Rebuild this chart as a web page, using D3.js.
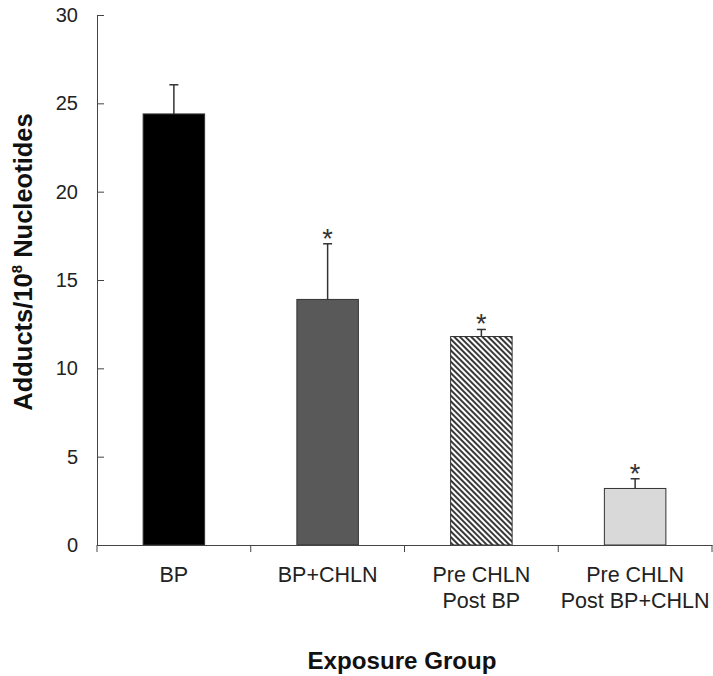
<!DOCTYPE html>
<html>
<head>
<meta charset="utf-8">
<script src="https://cdn.jsdelivr.net/npm/d3@7/dist/d3.min.js"></script>
<style>
  html, body { margin: 0; padding: 0; background: #fff; }
  svg { display: block; font-family: Arial, "Liberation Sans", sans-serif; }
</style>
</head>
<body>
<svg id="chart" width="713" height="676"></svg>
<script>
const categories = ["BP", "BP+CHLN", "Pre CHLN|Post BP", "Pre CHLN|Post BP+CHLN"];
const means = [24.4, 13.9, 11.8, 3.2];
const errors = [1.65, 3.15, 0.4, 0.55];
const significant = [false, true, true, true];
const yTicks = [0, 5, 10, 15, 20, 25, 30];

const svg = d3.select("#chart");
const margin = { left: 97, right: 1, top: 15, bottom: 131 };
const W = 713, H = 676;

const x = d3.scaleBand().domain(categories).range([margin.left, W - margin.right]).paddingInner(0.6).paddingOuter(0.3);
const xTickScale = d3.scaleBand().domain(categories).range([margin.left, W - margin.right]);
const y = d3.scaleLinear().domain([0, 30]).range([H - margin.bottom, margin.top]);

const defs = svg.append("defs");
const pat = defs.append("pattern").attr("id", "hatch").attr("patternUnits", "userSpaceOnUse")
  .attr("width", 4).attr("height", 4).attr("patternTransform", "rotate(45)");
pat.append("rect").attr("width", 4).attr("height", 4).attr("fill", "#fff");
pat.append("line").attr("x1", 0).attr("x2", 4).attr("y1", 1).attr("y2", 1)
  .attr("stroke", "#222").attr("stroke-width", 1.8);

const fills = ["#000000", "#595959", "url(#hatch)", "#d9d9d9"];

// bars
svg.append("g").selectAll("rect").data(categories).join("rect")
  .attr("x", d => x(d))
  .attr("width", x.bandwidth())
  .attr("y", (d, i) => y(means[i]))
  .attr("height", (d, i) => y(0) - y(means[i]))
  .attr("fill", (d, i) => fills[i])
  .attr("stroke", "#333")
  .attr("stroke-width", 1);

// error bars
const eg = svg.append("g").attr("stroke", "#333").attr("stroke-width", 1.5);
categories.forEach((c, i) => {
  const cx = x(c) + x.bandwidth() / 2;
  eg.append("line").attr("x1", cx).attr("x2", cx).attr("y1", y(means[i])).attr("y2", y(means[i] + errors[i]));
  eg.append("line").attr("x1", cx - 4.5).attr("x2", cx + 4.5).attr("y1", y(means[i] + errors[i])).attr("y2", y(means[i] + errors[i]));
  if (significant[i]) {
    svg.append("text").attr("x", cx).attr("y", y(means[i] + errors[i]) + 4)
      .attr("text-anchor", "middle").attr("font-size", 27).attr("fill", "#333").text("*");
  }
});

// y axis
const yAxis = d3.axisLeft(y).tickValues(yTicks).tickSize(-7).tickPadding(19).tickSizeOuter(0);
const yg = svg.append("g").attr("transform", `translate(${margin.left},0)`).call(yAxis);
yg.select(".domain").attr("stroke", "#444");
yg.selectAll(".tick line").attr("stroke", "#444");
yg.selectAll(".tick text").attr("font-size", 20).attr("fill", "#222").attr("font-family", "Arial, 'Liberation Sans', sans-serif");

// x axis
const xAxis = d3.axisBottom(xTickScale).tickSize(0).tickFormat("");
const xg = svg.append("g").attr("transform", `translate(0,${y(0)})`).call(xAxis);
xg.select(".domain").attr("stroke", "#444");
xg.selectAll(".tick").remove();
const tickPos = categories.map(c => xTickScale(c)).concat([xTickScale(categories[categories.length - 1]) + xTickScale.bandwidth()]);
xg.selectAll("line.xt").data(tickPos).join("line").attr("class", "xt")
  .attr("x1", d => d).attr("x2", d => d).attr("y1", 0).attr("y2", 7).attr("stroke", "#444");

// category labels
categories.forEach(c => {
  const cx = x(c) + x.bandwidth() / 2;
  const lines = c.split("|");
  const t = svg.append("text").attr("text-anchor", "middle").attr("font-size", 21.5).attr("fill", "#222");
  lines.forEach((l, k) => {
    t.append("tspan").attr("x", cx).attr("y", 582 + k * 26).text(l);
  });
});

// axis titles
svg.append("text").attr("x", 402).attr("y", 669).attr("text-anchor", "middle")
  .attr("font-size", 23).attr("font-weight", "bold").attr("fill", "#111")
  .attr("textLength", 189).attr("lengthAdjust", "spacingAndGlyphs").text("Exposure Group");

const yt = svg.append("text").attr("transform", "translate(32,262) rotate(-90)").attr("text-anchor", "middle")
  .attr("font-size", 25.5).attr("font-weight", "bold").attr("fill", "#111");
yt.append("tspan").text("Adducts/10");
yt.append("tspan").attr("font-size", 15).attr("dy", -10).text("8");
yt.append("tspan").attr("dy", 10).text(" Nucleotides");
</script>
</body>
</html>
